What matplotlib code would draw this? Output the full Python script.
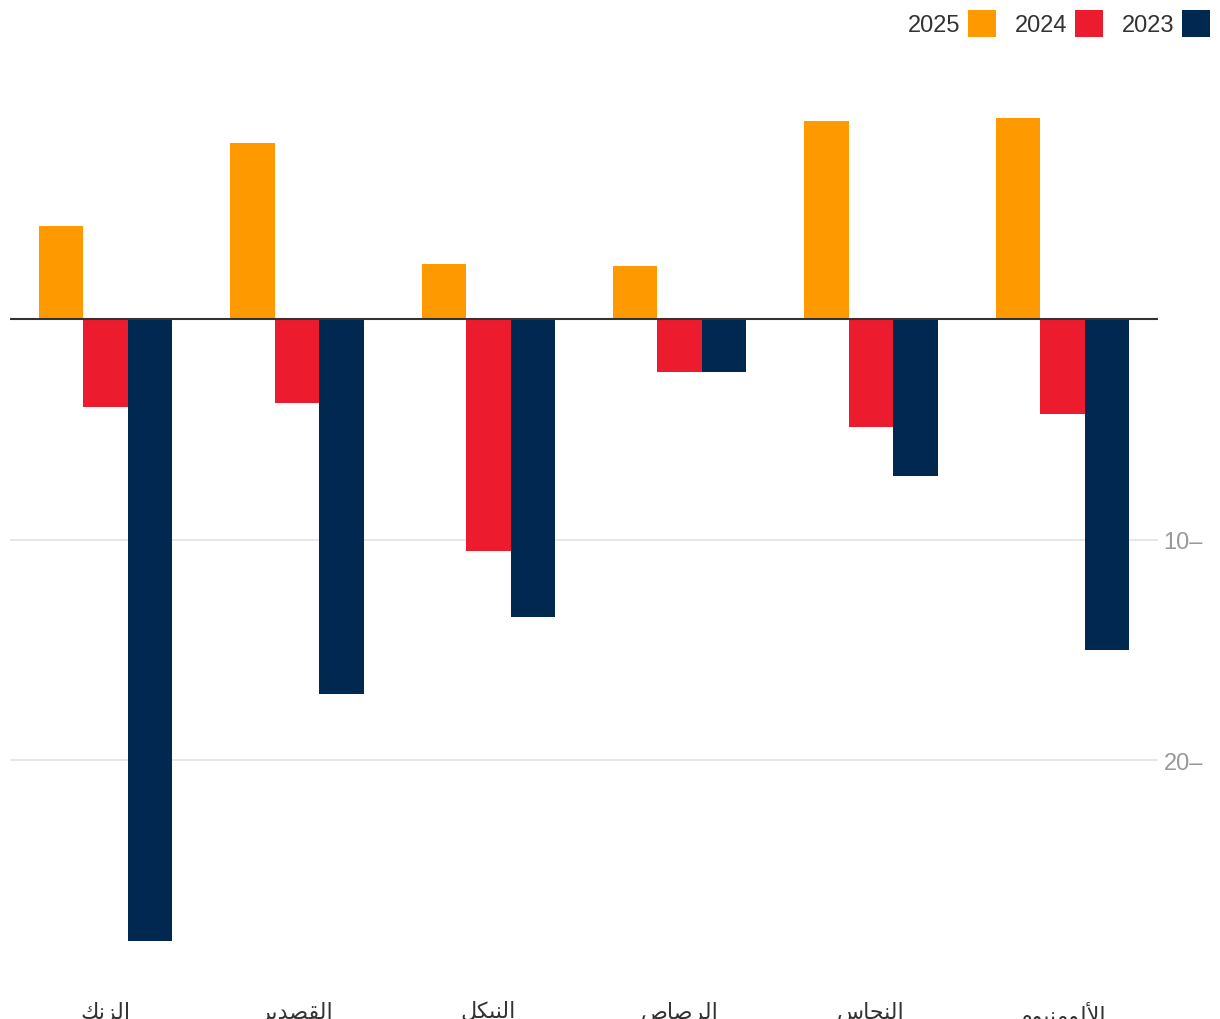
import matplotlib
matplotlib.use("Agg")
import matplotlib.pyplot as plt
from matplotlib.patches import Patch
import numpy as np

plt.rcParams['font.family'] = ['Liberation Sans', 'DejaVu Sans']

# Arabic labels written in shaped presentation forms, visual (left-to-right) order
# الزنك / القصدير / النيكل / الرصاص / النحاس / الألومنيوم
categories = [
    "\uFEDA\uFEE7\uFEB0\uFEDF\uFE8D",
    "\uFEAE\uFEF3\uFEAA\uFEBC\uFED8\uFEDF\uFE8D",
    "\uFEDE\uFEDC\uFEF4\uFEE8\uFEDF\uFE8D",
    "\uFEB9\uFE8E\uFEBB\uFEAE\uFEDF\uFE8D",
    "\uFEB1\uFE8E\uFEA4\uFEE8\uFEDF\uFE8D",
    "\uFEE1\uFEEE\uFEF4\uFEE8\uFEE3\uFEEE\uFEDF\uFEF7\uFE8D",
]
years = ["2025", "2024", "2023"]
v2025 = [4.2, 8.0, 2.5, 2.4, 9.0, 9.1]
v2024 = [-4.0, -3.8, -10.5, -2.4, -4.9, -4.3]
v2023 = [-28.2, -17.0, -13.5, -2.4, -7.1, -15.0]
colors = ["#FF9900", "#EC1C2E", "#002851"]

fig = plt.figure(figsize=(12.2, 10.2), dpi=100)
W, H = 1220, 1020
ax = fig.add_axes([10 / W, 1 - 981.5 / H, 1148 / W, 926 / H])

x = np.arange(len(categories))
w = 0.2326
for i, (vals, c) in enumerate(zip([v2025, v2024, v2023], colors)):
    ax.bar(x + (i - 1) * w, vals, width=w, color=c, zorder=2)

ax.axhline(0, color="#333333", lw=1.5, zorder=3)
ax.set_xlim(-0.5, len(categories) - 0.5)
ax.set_ylim(-30, 12)

ax.set_yticks([-20, -10])
ax.set_yticklabels([f"{abs(t)}\u2013" for t in [-20, -10]])
ax.yaxis.tick_right()
ax.tick_params(axis="y", length=0, pad=4, labelsize=17, labelcolor="#999999")
ax.grid(axis="y", color="#e3e3e3", lw=1.2, zorder=0)

ax.set_xticks(x)
ax.set_xticklabels(categories, fontsize=16, color="#333333")
ax.tick_params(axis="x", length=0, pad=15)

for s in ax.spines.values():
    s.set_visible(False)

handles = [Patch(facecolor=c, edgecolor="none") for c in colors]
fig.legend(handles, years, loc="upper right", bbox_to_anchor=(1210 / W, 1 - 11 / H),
           ncol=3, frameon=False, markerfirst=False, fontsize=17,
           handlelength=1.19, handleheight=1.38, handletextpad=0.32,
           columnspacing=0.8, borderpad=0, borderaxespad=0, labelcolor="#333333")

fig.savefig("out.png", dpi=100)
